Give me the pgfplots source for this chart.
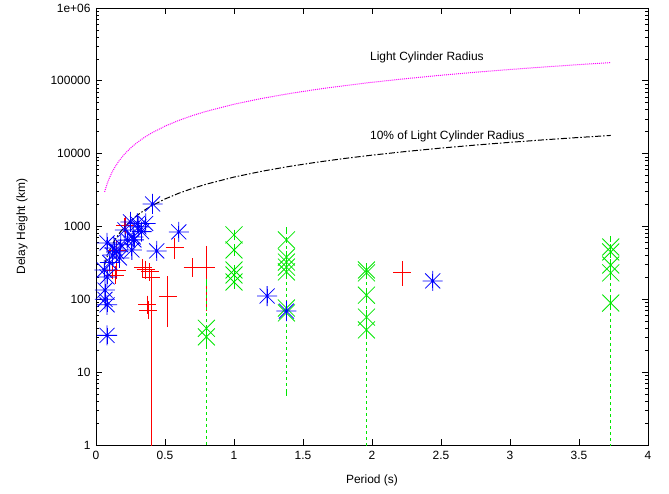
\documentclass[border=0pt]{standalone}
\usepackage{pgfplots}
\pgfplotsset{compat=1.18}
\usepackage{fontspec}
\setmainfont{Liberation Sans}
\definecolor{gpred}{RGB}{255,0,0}
\definecolor{gpgreen}{RGB}{0,230,0}
\definecolor{gpblue}{RGB}{0,0,255}
\definecolor{gpmag}{RGB}{255,0,255}
\pgfdeclareplotmark{star8}{%
 \pgfpathmoveto{\pgfqpoint{-\pgfplotmarksize}{0pt}}%
 \pgfpathlineto{\pgfqpoint{\pgfplotmarksize}{0pt}}%
 \pgfpathmoveto{\pgfqpoint{0pt}{-\pgfplotmarksize}}%
 \pgfpathlineto{\pgfqpoint{0pt}{\pgfplotmarksize}}%
 \pgfpathmoveto{\pgfqpoint{-0.75\pgfplotmarksize}{-0.75\pgfplotmarksize}}%
 \pgfpathlineto{\pgfqpoint{0.75\pgfplotmarksize}{0.75\pgfplotmarksize}}%
 \pgfpathmoveto{\pgfqpoint{-0.75\pgfplotmarksize}{0.75\pgfplotmarksize}}%
 \pgfpathlineto{\pgfqpoint{0.75\pgfplotmarksize}{-0.75\pgfplotmarksize}}%
 \pgfusepathqstroke}
\begin{document}
\begin{tikzpicture}[font=\fontsize{12}{14}\selectfont]
\begin{axis}[
 name=ax,
 scale only axis,
 width=552bp, height=437bp,
 xmin=0, xmax=4,
 ymode=log, ymin=1, ymax=1000000,
 xtick={0,0.5,...,4},
 xticklabels={0,0.5,1,1.5,2,2.5,3,3.5,4},
 ytick={1,10,100,1000,10000,100000,1000000},
 yticklabels={1,10,100,1000,10000,100000,1e+06},
 minor ytick={2,3,4,5,6,7,8,9,20,30,40,50,60,70,80,90,200,300,400,500,600,700,800,900,2000,3000,4000,5000,6000,7000,8000,9000,20000,30000,40000,50000,60000,70000,80000,90000,200000,300000,400000,500000,600000,700000,800000,900000},
 tick align=inside,
 major tick length=6bp,
 minor tick length=3bp,
 tick style={black, line width=0.7bp},
 axis line style={line width=0.8bp},
 xtick pos=both, ytick pos=both,
 /pgf/number format/assume math mode=true,
 xlabel={Period (s)},
 ylabel={Delay Height (km)},
 xlabel style={at={(axis description cs:0.5,-0.08)}, anchor=center},
 ylabel style={at={(axis description cs:-0.134,0.5)}, anchor=center, rotate=0},
 xticklabel style={yshift=-3bp},
 yticklabel style={xshift=-2bp},
 clip=true,
]
% red points (+)
\addplot[only marks, mark=+, mark size=9bp, draw=gpred, color=gpred, line width=0.9bp,
 error bars/.cd, y dir=both, y explicit,
 error bar style={line width=1bp, solid, draw=gpred},
 error mark options={mark size=4bp, line width=1bp, draw=gpred}]
 coordinates {
 (0.12,250) += (0,40) -= (0,35)
 (0.15,253) += (0,30) -= (0,30)
 (0.14,216) += (0,25) -= (0,25)
 (0.15,475) += (0,50) -= (0,50)
 (0.21,1050) += (0,120) -= (0,100)
 (0.34,270) += (0,30) -= (0,30)
 (0.36,255) += (0,25) -= (0,25)
 (0.39,238) += (0,30) -= (0,30)
 (0.40,197) += (0,25) -= (0,196.5)
 (0.37,84) += (0,15) -= (0,12)
 (0.38,71) += (0,10) -= (0,10)
 (0.52,111) += (0,73) -= (0,64)
 (0.57,508) += (0,104) -= (0,102)
 (0.70,277) += (0,39) -= (0,47)
 (0.80,277) += (0,199) -= (0,198)
 (2.22,231) += (0,65) -= (0,58)
 };
% green points (x)
\addplot[only marks, mark=x, mark size=12bp, color=gpgreen, line width=0.8bp,
 error bars/.cd, y dir=both, y explicit,
 error bar style={line width=0.8bp, dashed, draw=gpgreen},
 error mark options={mark size=3bp, line width=0.8bp, solid, draw=gpgreen}]
 coordinates {
 (0.80,40) += (0,133) -= (0,39.5)
 (0.80,30.5) += (0,5) -= (0,5)
 (1.00,767) += (0,60) -= (0,60)
 (1.00,476) += (0,40) -= (0,40)
 (1.00,253) += (0,20) -= (0,20)
 (1.00,216) += (0,20) -= (0,20)
 (1.00,173) += (0,20) -= (0,20)
 (1.38,655) += (0,243) -= (0,649.8)
 (1.38,381) += (0,40) -= (0,40)
 (1.38,325) += (0,30) -= (0,30)
 (1.38,277) += (0,30) -= (0,30)
 (1.38,238) += (0,30) -= (0,30)
 (1.38,76) += (0,10) -= (0,10)
 (1.38,65) += (0,10) -= (0,10)
 (1.96,253) += (0,30) -= (0,252.5)
 (1.96,231) += (0,20) -= (0,20)
 (1.96,114) += (0,15) -= (0,15)
 (1.96,57) += (0,8) -= (0,8)
 (1.96,38) += (0,5) -= (0,5)
 (3.73,523) += (0,155) -= (0,522.5)
 (3.73,447) += (0,40) -= (0,40)
 (3.73,296) += (0,30) -= (0,30)
 (3.73,231) += (0,25) -= (0,25)
 (3.73,89) += (0,10) -= (0,10)
 };
% blue points (asterisk)
\addplot[only marks, mark=star8, mark size=10bp, color=gpblue, line width=0.8bp,
 error bars/.cd, y dir=both, y explicit,
 error bar style={line width=0.8bp, solid, draw=gpblue},
 error mark options={mark size=3bp, line width=0.8bp, draw=gpblue}]
 coordinates {
 (0.06,253) += (0,30) -= (0,30)
 (0.065,134) += (0,15) -= (0,15)
 (0.065,100) += (0,12) -= (0,12)
 (0.08,84) += (0,10) -= (0,10)
 (0.08,32) += (0,5) -= (0,5)
 (0.08,203) += (0,25) -= (0,25)
 (0.08,595) += (0,60) -= (0,60)
 (0.10,320) += (0,40) -= (0,40)
 (0.12,406) += (0,45) -= (0,45)
 (0.13,508) += (0,55) -= (0,55)
 (0.15,450) += (0,50) -= (0,50)
 (0.17,370) += (0,40) -= (0,40)
 (0.18,560) += (0,60) -= (0,60)
 (0.21,898) += (0,100) -= (0,100)
 (0.23,650) += (0,70) -= (0,70)
 (0.25,1156) += (0,130) -= (0,130)
 (0.26,476) += (0,50) -= (0,50)
 (0.275,655) += (0,70) -= (0,70)
 (0.27,718) += (0,80) -= (0,80)
 (0.30,1100) += (0,120) -= (0,120)
 (0.31,988) += (0,100) -= (0,100)
 (0.33,850) += (0,90) -= (0,90)
 (0.36,1100) += (0,120) -= (0,120)
 (0.41,2040) += (0,250) -= (0,250)
 (0.44,462) += (0,50) -= (0,50)
 (0.60,843) += (0,90) -= (0,90)
 (1.24,111) += (0,14) -= (0,14)
 (1.38,69) += (0,9) -= (0,9)
 (2.44,179) += (0,22) -= (0,22)
 };
% light cylinder radius
\addplot[gpmag, densely dotted, line width=1bp] coordinates {
 (0.0625,2982) (0.07,3340) (0.08,3817) (0.09,4294) (0.1,4771) (0.12,5726)
 (0.14,6680) (0.17,8111) (0.2,9543) (0.25,11928) (0.3,14314) (0.35,16700)
 (0.4,19085) (0.5,23857) (0.6,28628) (0.7,33399) (0.8,38170) (1.0,47713)
 (1.2,57256) (1.4,66798) (1.6,76341) (1.8,85883) (2.0,95426) (2.25,107354)
 (2.5,119283) (2.75,131211) (3.0,143139) (3.25,155067) (3.5,166996) (3.73,177969)
 };
% 10% of light cylinder radius
\addplot[black, line width=1bp, dash pattern=on 6bp off 2bp on 1.5bp off 2bp] coordinates {
 (0.0625,298.2) (0.07,334.0) (0.08,381.7) (0.09,429.4) (0.1,477.1) (0.12,572.6)
 (0.14,668.0) (0.17,811.1) (0.2,954.3) (0.25,1192.8) (0.3,1431.4) (0.35,1670.0)
 (0.4,1908.5) (0.5,2385.7) (0.6,2862.8) (0.7,3339.9) (0.8,3817.0) (1.0,4771.3)
 (1.2,5725.6) (1.4,6679.8) (1.6,7634.1) (1.8,8588.3) (2.0,9542.6) (2.25,10735.4)
 (2.5,11928.3) (2.75,13121.1) (3.0,14313.9) (3.25,15506.7) (3.5,16699.6) (3.73,17796.9)
 };
\node[anchor=west, inner sep=0pt] at (axis cs:1.985,207000) {Light Cylinder Radius};
\node[anchor=west, inner sep=0pt] at (axis cs:1.985,17000) {10\% of Light Cylinder Radius};
\end{axis}
\pgfresetboundingbox
\path[use as bounding box] ([xshift=-96bp,yshift=-49bp]ax.south west) rectangle ++(669bp,494bp);
\end{tikzpicture}
\end{document}
